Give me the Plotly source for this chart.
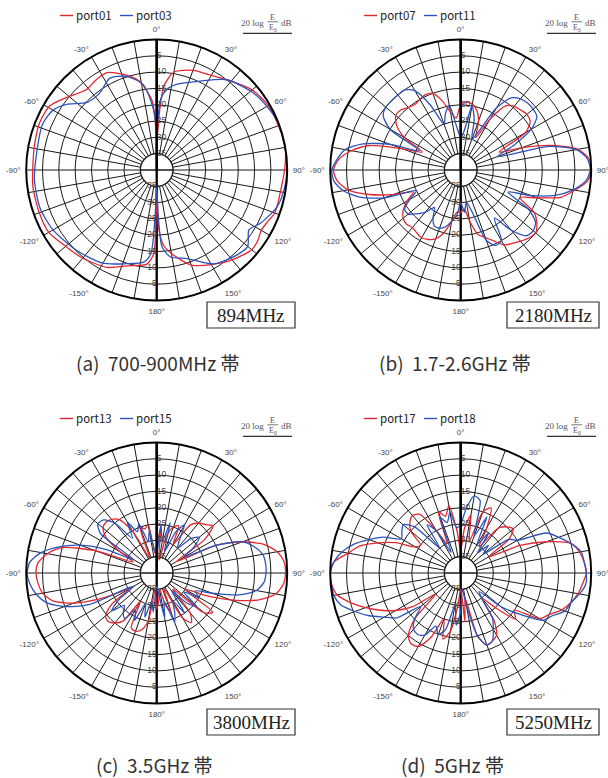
import plotly.graph_objects as go

W, H = 608, 778

# ---------------- data (relative level, dB; 0 = outer ring) ----------------
# (a) 894 MHz
a_port01_theta = [0, 3, 5, 10, 20, 30, 40, 50, 60, 70, 80, 90, 100, 105, 110, 115, 120, 125, 130, 140,
                  150, 160, 170, 175, 178, 180, 182, 186, 197, 207, 220, 230, 240, 250, 262, 270, 281,
                  292, 301, 309, 319, 326, 333, 341, 349, 356, 358, 360]
a_port01 = [-31, -21, -14, -9.5, -7.5, -6.5, -4.5, -1.8, -0.5, -0.3, 0, -0.8, -1.5, -1.5, -1.5, -2.5, -3.0,
            -2.2, -2.0, -4.0, -6.5, -9, -14, -17, -22, -31, -14.4, -11, -9.3, -6.5, -4.7, -3.6, -1.8,
            -1.7, -1.7, -2.0, -1.8, -1.3, -1.8, -4.6, -7.3, -6.7, -6.5, -9.0, -12.3, -18.5, -23.6, -31]
a_port03_theta = [0, 3, 7, 13, 26, 38, 52, 60, 69, 84, 90, 99, 107, 117, 123, 130, 138, 149, 161, 171,
                  176, 178, 180, 182, 184, 188, 198, 210, 225, 240, 252, 265, 275, 292, 300, 306, 314,
                  323, 333, 342, 351, 357, 360]
a_port03 = [-27, -18.5, -15.2, -13.1, -9.7, -4.9, -2.0, -1.0, 0, 0, 0, -0.5, -1.4, -4.2, -6.3, -3.6,
            -4.4, -6.4, -11.3, -13, -16.4, -25.6, -35, -25.6, -14.3, -11.5, -9.8, -7.0, -5.2, -3.3,
            -2.4, -2.4, -2.8, -2.3, -3.3, -5.8, -10.2, -10.7, -8.4, -9.8, -13.5, -21.5, -27]

# angles for the 5-degree sampled series (b)-(d)
theta5 = list(range(0, 360, 5))

# (b) 2180 MHz
b_port07 = [-20, -19, -19.5, -21, -24, -29, -22, -16, -14.5, -14, -13.5, -14, -17, -27, -20, -11, -3.5,
            -0.5, 0, -1, -4.5, -8, -15, -20, -14, -11.5, -10, -10.5, -11.5, -12.5, -13.5, -16, -18,
            -19.5, -24, -28, -27, -27, -24, -20, -17.5, -16.5, -16, -16.5, -17, -16.5, -17, -18.5, -21,
            -24, -18, -11, -5, -2, -1, -2.5, -6, -11, -21, -27, -20, -16, -14, -14, -15, -15.5, -15,
            -14.5, -15, -18, -22, -24]
b_port11 = [-30, -28, -20, -24, -30, -27, -18, -13, -11.5, -11, -11, -11.5, -15, -22, -28, -12, -4, -1,
            -0.3, -1.5, -5, -10, -17, -24, -16, -12, -11, -11.5, -16, -22, -15, -14.5, -17, -27, -30, -27,
            -30, -26, -24, -22, -21, -21, -23, -26, -23, -21, -19, -19, -22, -25, -15, -8, -3.5, -1,
            -0.5, -2, -4, -9, -17, -26, -15, -11, -10, -10, -10, -10, -12, -18, -25, -22, -20, -27]

# (c) 3800 MHz
c_port13 = [-32, -26, -36, -28, -25, -24, -30, -22, -20, -19, -17.5, -22, -33, -20, -12, -6, -2.5, -0.8,
            -0.5, -1, -3, -8, -16, -24, -30, -19, -21, -33, -24, -21.5, -24, -35, -27, -30, -35, -32,
            -29, -35, -25, -22, -21, -21.5, -30, -22, -20, -19, -19.5, -23, -30, -22, -13, -7, -4.5,
            -3.5, -3, -3.5, -6, -10, -20, -32, -27, -21, -18.5, -18, -18.5, -20, -25, -35, -25, -26,
            -25, -34]
c_port15 = [-34, -25, -30, -24, -33, -26, -23, -28, -30, -25, -23, -26, -30, -20, -12, -9, -7, -6.5, -6.5,
            -7, -9, -14, -22, -27, -25, -30, -24, -27, -33, -25, -30, -27, -24, -31, -26, -34, -36, -28,
            -31, -26, -30, -24, -27, -23, -24, -26, -22, -26, -32, -17, -10, -5, -2.5, -1, -0.3, -1, -4,
            -9, -15, -23, -32, -19, -16.5, -17, -20, -27, -22, -26, -24, -30, -27, -33]

# (d) 5250 MHz
d_port17 = [-33, -26, -22, -30, -20, -18, -24, -30, -22, -20, -19, -22, -30, -20, -12, -5, -3, -2, -1.5,
            -2.5, -3.5, -5, -7, -10, -12, -20, -18, -25, -30, -22, -18, -17, -16.5, -20, -32, -25, -35,
            -30, -22, -19, -25, -18, -14, -13.5, -15, -20, -30, -22, -17, -13, -9, -5, -1.5, -0.3, 0,
            -1, -5, -8, -13, -18, -24, -25, -20, -18, -17, -18, -25, -30, -20, -22, -19, -27]
d_port18 = [-25, -20, -16, -17, -28, -21, -30, -25, -32, -28, -31, -22, -20, -11, -8, -5, -2.5, -2, -1.5,
            -1.5, -3, -5, -6, -9, -11, -18, -24, -32, -30, -23, -20, -17, -16.5, -20, -30, -35, -28, -24,
            -30, -22, -20, -22, -18, -17, -17.5, -20, -24, -16, -13, -9, -5.5, -2, -0.5, -0.2, 0, -1,
            -3, -6, -10, -14, -19, -18, -17, -20, -30, -22, -25, -33, -22, -24, -21, -26]

radial_tick_vals = [-5, -10, -15, -20, -25, -30, -35]
radial_tick_text = ["5", "10", "15", "20", "25", "30", "35"]
angular_tick_vals = list(range(0, 360, 10))

freq_labels = ["894MHz", "2180MHz", "3800MHz", "5250MHz"]
captions = ["(a)  700-900MHz 帯", "(b)  1.7-2.6GHz 帯", "(c)  3.5GHz 帯", "(d)  5GHz 帯"]
port_names = [("port01", "port03"), ("port07", "port11"), ("port13", "port15"), ("port17", "port18")]

series = [
    ((a_port01_theta, a_port01), (a_port03_theta, a_port03)),
    ((theta5 + [360], b_port07 + b_port07[:1]), (theta5 + [360], b_port11 + b_port11[:1])),
    ((theta5 + [360], c_port13 + c_port13[:1]), (theta5 + [360], c_port15 + c_port15[:1])),
    ((theta5 + [360], d_port17 + d_port17[:1]), (theta5 + [360], d_port18 + d_port18[:1])),
]

# ---------------- style / layout ----------------
RED = "#e3262f"
BLUE = "#2c52bd"
GRID = "#1a1a1a"
R_PX = 130.5
centers = [(156.7, 170.0), (460.7, 170.0), (156.7, 573.0), (460.7, 573.0)]
dy_rows = [0, 403]
dx_cols = [0, 304]
caption_pos = [(157, 362), (455, 362), (154, 764), (452, 764)]


def px(x):
    return x / W


def py(y):
    return 1 - y / H


def ang_text(v):
    if v % 30:
        return ""
    d = v if v <= 180 else v - 360
    return f"{d}°"


fig = go.Figure()
layout = dict(
    width=W, height=H, margin=dict(l=0, r=0, t=0, b=0),
    paper_bgcolor="white", plot_bgcolor="white", showlegend=False,
    annotations=[], shapes=[],
)

for i, (cx, cy) in enumerate(centers):
    key = "polar" if i == 0 else f"polar{i + 1}"
    sub = "polar" if i == 0 else f"polar{i + 1}"
    layout[key] = dict(
        domain=dict(x=[px(cx - R_PX), px(cx + R_PX)], y=[py(cy + R_PX), py(cy - R_PX)]),
        bgcolor="white",
        radialaxis=dict(range=[-40, 0], tickvals=radial_tick_vals, showticklabels=False, ticks="",
                        showgrid=True, gridcolor=GRID, gridwidth=1.3, showline=True, linecolor="black",
                        linewidth=2.3, angle=90),
        angularaxis=dict(rotation=90, direction="clockwise", tickvals=angular_tick_vals,
                         ticktext=[ang_text(v) for v in angular_tick_vals], ticks="outside", ticklen=3,
                         tickcolor="rgba(0,0,0,0)", showgrid=True, gridcolor=GRID, gridwidth=1.3,
                         showline=True, linecolor="black", linewidth=2,
                         tickfont=dict(family="Liberation Sans, Arial", size=8, color="#444")),
    )
    # white centre hole and its cross
    ring = list(range(0, 361, 5))
    fig.add_trace(go.Scatterpolar(r=[-35] * len(ring), theta=ring, mode="lines", fill="toself",
                                  fillcolor="white", line=dict(color=GRID, width=1.3), subplot=sub,
                                  hoverinfo="skip"))
    fig.add_trace(go.Scatterpolar(r=[-35, -40, -35], theta=[90, 90, 270], mode="lines",
                                  line=dict(color=GRID, width=1.3), subplot=sub, hoverinfo="skip"))
    fig.add_trace(go.Scatterpolar(r=[0, -40, 0], theta=[0, 0, 180], mode="lines",
                                  line=dict(color="black", width=2.3), subplot=sub, hoverinfo="skip"))
    # data
    (t1, v1), (t2, v2) = series[i]
    n1, n2 = port_names[i]
    fig.add_trace(go.Scatterpolar(r=v1, theta=t1, mode="lines", name=n1, subplot=sub,
                                  line=dict(color=RED, width=1.3, shape="spline", smoothing=0.7)))
    fig.add_trace(go.Scatterpolar(r=v2, theta=t2, mode="lines", name=n2, subplot=sub,
                                  line=dict(color=BLUE, width=1.3, shape="spline", smoothing=0.7)))
    # radial labels along 0 and 180 degrees
    fig.add_trace(go.Scatterpolar(r=radial_tick_vals, theta=[0] * 7, mode="text", text=radial_tick_text,
                                  textposition="middle right", subplot=sub, hoverinfo="skip",
                                  textfont=dict(family="Liberation Sans, Arial", size=8.5, color="#444")))
    fig.add_trace(go.Scatterpolar(r=radial_tick_vals, theta=[180] * 7, mode="text", text=radial_tick_text,
                                  textposition="middle left", subplot=sub, hoverinfo="skip",
                                  textfont=dict(family="Liberation Sans, Arial", size=8.5, color="#444")))

    ox = dx_cols[i % 2]
    oy = dy_rows[i // 2]
    # legend: short coloured line + name
    for (lx, col, name) in ((60, RED, n1), (120, BLUE, n2)):
        layout["shapes"].append(dict(type="line", xref="paper", yref="paper", x0=px(lx + ox),
                                     x1=px(lx + 13 + ox), y0=py(15.5 + oy), y1=py(15.5 + oy),
                                     line=dict(color=col, width=1.4)))
        layout["annotations"].append(dict(
            x=px(lx + 13.5 + ox), y=py(15 + oy), xref="paper", yref="paper", xanchor="left",
            yanchor="middle", showarrow=False, text=name,
            font=dict(family="Noto Sans CJK JP", size=11.5, color="#222")))
    # formula 20 log E/E0 dB
    ser = "Liberation Serif, Times New Roman, serif"
    layout["annotations"] += [
        dict(x=px(266 + ox), y=py(22.5 + oy), xref="paper", yref="paper", xanchor="right", yanchor="middle",
             showarrow=False, text="20 log", font=dict(family=ser, size=9, color="#555")),
        dict(x=px(272.5 + ox), y=py(17 + oy), xref="paper", yref="paper", xanchor="center", yanchor="middle",
             showarrow=False, text="E", font=dict(family=ser, size=8, color="#555")),
        dict(x=px(273 + ox), y=py(27.5 + oy), xref="paper", yref="paper", xanchor="center", yanchor="middle",
             showarrow=False, text="E<sub>0</sub>", font=dict(family=ser, size=8, color="#555")),
        dict(x=px(279 + ox), y=py(22.5 + oy), xref="paper", yref="paper", xanchor="left", yanchor="middle",
             showarrow=False, text="dB", font=dict(family=ser, size=9, color="#555")),
    ]
    layout["shapes"] += [
        dict(type="line", xref="paper", yref="paper", x0=px(267.5 + ox), x1=px(278 + ox),
             y0=py(21.8 + oy), y1=py(21.8 + oy), line=dict(color="#555", width=0.8)),
        dict(type="line", xref="paper", yref="paper", x0=px(243 + ox), x1=px(292 + ox),
             y0=py(33.3 + oy), y1=py(33.3 + oy), line=dict(color="#333", width=1.2)),
    ]
    # frequency box
    bx0 = 207 if i % 2 == 0 else 507
    bx1 = 295 if i % 2 == 0 else 599
    by0 = 302 + oy + (4 if i >= 2 else 0)
    by1 = by0 + 26
    layout["shapes"].append(dict(type="rect", xref="paper", yref="paper", x0=px(bx0), x1=px(bx1),
                                 y0=py(by1), y1=py(by0), line=dict(color="#333", width=1.2),
                                 fillcolor="white"))
    layout["annotations"].append(dict(
        x=px((bx0 + bx1) / 2), y=py((by0 + by1) / 2 + 0.5), xref="paper", yref="paper", xanchor="center",
        yanchor="middle", showarrow=False, text=freq_labels[i],
        font=dict(family=ser, size=19, color="#222")))
    # caption
    cxp, cyp = caption_pos[i]
    layout["annotations"].append(dict(
        x=px(cxp), y=py(cyp), xref="paper", yref="paper", xanchor="center", yanchor="middle",
        showarrow=False, text=captions[i], font=dict(family="Noto Sans CJK JP", size=19, color="#333")))

fig.update_layout(**layout)
fig.write_html("out.html", config={"displayModeBar": False},
               post_script="document.body.style.margin='0';document.body.style.overflow='hidden';")
